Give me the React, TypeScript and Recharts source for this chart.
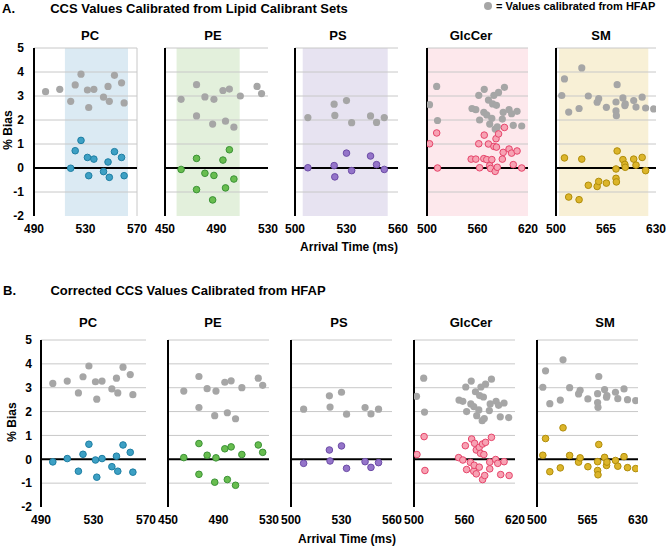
import React from "react";
import { ScatterChart, Scatter, XAxis, YAxis, ReferenceLine, ReferenceArea } from "recharts";

const FONT = "'Liberation Sans', Arial, sans-serif";
const GRAY = "#a6a6a6";

// --- PC ---
const pcTimes = [499, 510, 518.5, 522, 526.5, 531.5, 532.5, 536.5, 544, 547.5, 548.5, 552.5, 558, 560];
const pcHfap = [3.18, 3.28, 2.78, 3.46, 3.91, 3.25, 2.52, 3.28, 2.95, 3.4, 2.78, 3.86, 3.55, 2.71];
const pcLipid = [null, null, -0.01, 0.72, 1.15, 0.44, -0.32, 0.37, -0.15, 0.25, -0.39, 0.68, 0.44, -0.32];
const pcCorrected = [-0.11, 0.03, -0.5, 0.21, 0.63, -0.03, -0.75, 0.03, -0.31, 0.13, -0.5, 0.6, 0.29, -0.54];

// --- PE ---
const peTimes = [462.5, 474.5, 474.5, 481, 488, 487, 495, 500, 497, 503.5, 508.5, 521.5, 525];
const peHfap = [2.86, 3.47, 2.17, 2.96, 2.86, 1.83, 3.23, 3.29, 1.95, 1.7, 3.0, 3.4, 3.1];
const peLipid = [-0.06, 0.4, -0.9, -0.22, -0.31, -1.33, 0.33, 0.76, -0.83, -0.46, null, null, null];
const peCorrected = [0.07, 0.66, -0.63, 0.17, 0.06, -0.96, 0.44, 0.52, -0.85, -1.09, 0.2, 0.6, 0.29];

// --- PS ---
const psTimes = [507.5, 522.8, 523.2, 530, 533, 544, 547.5, 552];
const psHfap = [2.1, 2.66, 2.19, 2.81, 1.89, 2.17, 1.9, 2.1];
const psLipid = [0.01, 0.1, -0.37, 0.62, -0.11, 0.5, 0.14, -0.06];
const psCorrected = [-0.17, 0.39, -0.07, 0.56, -0.38, -0.1, -0.34, -0.14];

// --- GlcCer ---
const glcHfap: [number, number][] = [
  [503, 2.64], [511.5, 3.4], [512.5, 1.98], [553.5, 2.48], [558, 2.43], [561.5, 3.03], [562.5, 2.0],
  [567.5, 2.32], [568, 3.28], [571, 2.21], [573, 2.83], [574.5, 1.83], [577, 2.07], [578, 2.67],
  [579.5, 3.03], [581, 1.62], [582.5, 2.61], [583.5, 1.71], [585, 3.15], [589.5, 2.04], [590.5, 2.32],
  [592, 3.36], [597.5, 2.43], [600.5, 2.26], [602.5, 1.78], [607, 2.36], [612.5, 1.75],
];
const glcLipid: [number, number][] = [
  [503, 1.01], [511.5, 1.46], [512.5, 0.0], [552.5, 0.37], [558, 0.37], [561.5, 1.01], [562.5, 0.01],
  [567.5, 0.39], [568, 1.37], [571, 0.35], [573, 1.0], [574.5, 0.1], [575.5, -0.02], [577, 0.35],
  [579.5, 0.9], [581, -0.14], [582, 1.22], [582.5, 0.87], [583.5, 0.03], [585, 1.42], [589.5, 0.37],
  [590.5, 0.65], [592, 1.69], [597.5, 0.79], [600.5, 0.62], [602.5, 0.14], [607, 0.71], [612.5, 0.0],
];
const glcCorrected: [number, number][] = [
  [503.5, 0.2], [512, 0.95], [513, -0.47], [553, 0.07], [558, -0.03], [561, 0.57], [562.5, -0.43],
  [567, -0.13], [568.5, 0.85], [571, -0.5], [571.5, -0.25], [572, 0.67], [574, 0.39], [574, -0.61],
  [577.5, 0.5], [577.5, -0.33], [579, 0.25], [581.5, 0.64], [581.5, -0.85], [583, 0.2], [584, -0.68],
  [585, 0.71], [590, -0.12], [590, -0.4], [592, 0.92], [597, -0.01], [599.5, -0.17], [603, -0.64],
  [607, -0.1], [613, -0.68],
];

// --- SM ---
const smTimes = [507.5, 511, 516.5, 530, 533.5, 542, 553.5, 555.5, 565.5, 578, 579.5, 578, 578.5, 587, 589.5, 590, 601, 604, 612, 616.5, 627];
const smHfap = [3.02, 3.71, 2.33, 2.48, 4.17, 3.0, 2.74, 2.89, 2.53, 2.75, 3.47, 2.38, 2.18, 2.92, 2.6, 2.67, 2.81, 2.54, 2.95, 2.5, 2.46];
const smLipid = [null, 0.42, -1.21, -1.32, 0.37, -0.72, -0.77, -0.56, -0.63, -0.04, 0.71, -0.43, -0.58, 0.35, 0.15, 0.03, 0.37, 0.12, 0.44, -0.11, null];
const smCorrected = [0.17, 0.87, -0.52, -0.36, 1.32, 0.16, -0.12, 0.06, -0.31, -0.1, 0.62, -0.47, -0.65, 0.08, -0.26, -0.12, -0.05, -0.29, 0.11, -0.35, -0.39];

// axes
const biasTicks = [-2, -1, 0, 1, 2, 3, 4, 5];
const gridValues = [-1, 1, 2, 3, 4, 5];
const pcTicks = [490, 530, 570];
const peTicks = [450, 490, 530];
const psTicks = [500, 530, 560];
const glcTicks = [500, 560, 620];
const smTicks = [500, 565, 630];

type Pt = { t: number; b: number };
const pair = (times: number[], bias: (number | null)[]): Pt[] =>
  times.flatMap((t, i) => (bias[i] == null ? [] : [{ t, b: bias[i] as number }]));
const fromList = (list: [number, number][]): Pt[] => list.map(([t, b]) => ({ t, b }));

const dot = (fill: string, stroke: string | null, r: number) => (p: any) => (
  <circle cx={p.cx} cy={p.cy} r={r} fill={fill} stroke={stroke ?? "none"} strokeWidth={stroke ? 1 : 0} />
);

const tickStyle = { fontSize: 12, fontWeight: 700, fill: "#000", fontFamily: FONT };

type PanelProps = {
  x: number; y: number; w: number; h: number;
  ticks: number[];
  shade?: { from: number; to: number; fill: string };
  gray: Pt[];
  data: Pt[];
  fill: string; stroke: string;
  showY?: boolean; border?: boolean; tickMargin?: number;
};

function Panel({ x, y, w, h, ticks, shade, gray, data, fill, stroke, showY, border, tickMargin = 3 }: PanelProps) {
  const ML = 16, MR = 16, MT = 6, XH = 22, YW = 30;
  const lo = ticks[0], hi = ticks[ticks.length - 1];
  const extra = showY ? YW : 0;
  return (
    <div style={{ position: "absolute", left: x - ML - extra, top: y - MT }}>
      <ScatterChart width={w + ML + MR + extra} height={h + MT + XH + 2} margin={{ top: MT, right: MR, bottom: 2, left: ML }}>
        <XAxis type="number" dataKey="t" domain={[lo, hi]} ticks={ticks} interval={0} allowDataOverflow
          axisLine={false} tickLine={false} tick={tickStyle} height={XH} />
        <YAxis type="number" dataKey="b" domain={[-2, 5]} ticks={biasTicks} interval={0} allowDataOverflow hide={!showY}
          width={YW} axisLine={false} tickLine={false} tickMargin={tickMargin} tick={tickStyle} />
        {shade && (
          <ReferenceArea x1={shade.from} x2={shade.to} y1={-2} y2={5} fill={shade.fill} fillOpacity={1} stroke="none" />
        )}
        {gridValues.map((v) => (
          <ReferenceLine key={v} y={v} stroke="#c8c8c8" strokeWidth={1} />
        ))}
        {border && <ReferenceLine x={hi} stroke="#c8c8c8" strokeWidth={1} />}
        <ReferenceLine y={0} stroke="#000" strokeWidth={2} />
        <ReferenceLine x={lo} stroke="#000" strokeWidth={2} />
        <Scatter data={gray} shape={dot(GRAY, null, 3.6)} isAnimationActive={false} />
        <Scatter data={data} shape={dot(fill, stroke, 3.3)} isAnimationActive={false} />
      </ScatterChart>
    </div>
  );
}

function Text({ x, y, size = 12, children, rotate, anchor = "center" }: any) {
  const tx = anchor === "center" ? "-50%" : "0";
  return (
    <div
      style={{
        position: "absolute", left: x, top: y, whiteSpace: "nowrap",
        transform: `translate(${tx}, -50%)${rotate ? ` rotate(${rotate}deg)` : ""}`,
        fontFamily: FONT, fontWeight: 700, fontSize: size, color: "#000", lineHeight: 1,
      }}
    >
      {children}
    </div>
  );
}

const C = {
  pc: { fill: "#3da0c4", stroke: "#1d7ea3", shade: "#dbeaf3" },
  pe: { fill: "#68bd4f", stroke: "#3b9236", shade: "#e3f0dc" },
  ps: { fill: "#9474c9", stroke: "#6c4ca6", shade: "#e7e3f1" },
  glc: { fill: "#f7a2b3", stroke: "#e6456b", shade: "#fde8ec" },
  sm: { fill: "#dcb52a", stroke: "#b08d0b", shade: "#f8f0d6" },
};

export default function App() {
  const topY = 48, topH = 168;
  const botY = 340, botH = 167;
  const pcGray = pair(pcTimes, pcHfap);
  const peGray = pair(peTimes, peHfap);
  const psGray = pair(psTimes, psHfap);
  const glcGray = fromList(glcHfap);
  const smGray = pair(smTimes, smHfap);
  return (
    <div style={{ position: "absolute", left: 0, top: 0, width: 666, height: 546, background: "#fff", overflow: "hidden" }}>
      {/* A. */}
      <Text x={2} y={8} size={13} anchor="left">A.</Text>
      <Text x={199} y={8} size={13}>CCS Values Calibrated from Lipid Calibrant Sets</Text>
      <div style={{ position: "absolute", left: 484, top: 2, width: 8, height: 8, borderRadius: 4, background: GRAY }} />
      <Text x={496} y={6} size={11} anchor="left">= Values calibrated from HFAP</Text>
      <Text x={90} y={35} size={13}>PC</Text>
      <Text x={213} y={35} size={13}>PE</Text>
      <Text x={338} y={35} size={13}>PS</Text>
      <Text x={471} y={35} size={13}>GlcCer</Text>
      <Text x={601} y={35} size={13}>SM</Text>
      <Text x={8} y={130} rotate={-90}>% Bias</Text>
      <Text x={349} y={247}>Arrival Time (ms)</Text>

      <Panel x={34} y={topY} w={103} h={topH} ticks={pcTicks} showY border tickMargin={4}
        shade={{ from: 514, to: 563, fill: C.pc.shade }} gray={pcGray} data={pair(pcTimes, pcLipid)} fill={C.pc.fill} stroke={C.pc.stroke} />
      <Panel x={165} y={topY} w={103} h={topH} ticks={peTicks}
        shade={{ from: 459, to: 508, fill: C.pe.shade }} gray={peGray} data={pair(peTimes, peLipid)} fill={C.pe.fill} stroke={C.pe.stroke} />
      <Panel x={295} y={topY} w={103} h={topH} ticks={psTicks}
        shade={{ from: 504.5, to: 554, fill: C.ps.shade }} gray={psGray} data={pair(psTimes, psLipid)} fill={C.ps.fill} stroke={C.ps.stroke} />
      <Panel x={427} y={topY} w={101} h={topH} ticks={glcTicks}
        shade={{ from: 500, to: 620, fill: C.glc.shade }} gray={glcGray} data={fromList(glcLipid)} fill={C.glc.fill} stroke={C.glc.stroke} />
      <Panel x={556} y={topY} w={100} h={topH} ticks={smTicks}
        shade={{ from: 504, to: 620, fill: C.sm.shade }} gray={smGray} data={pair(smTimes, smLipid)} fill={C.sm.fill} stroke={C.sm.stroke} />

      {/* B. */}
      <Text x={3} y={290} size={13} anchor="left">B.</Text>
      <Text x={188} y={290} size={13}>Corrected CCS Values Calibrated from HFAP</Text>
      <Text x={88} y={322} size={13}>PC</Text>
      <Text x={213} y={322} size={13}>PE</Text>
      <Text x={339} y={322} size={13}>PS</Text>
      <Text x={471} y={322} size={13}>GlcCer</Text>
      <Text x={605} y={322} size={13}>SM</Text>
      <Text x={12} y={422} rotate={-90}>% Bias</Text>
      <Text x={347} y={539}>Arrival Time (ms)</Text>

      <Panel x={41} y={botY} w={105} h={botH} ticks={pcTicks} showY
        gray={pcGray} data={pair(pcTimes, pcCorrected)} fill={C.pc.fill} stroke={C.pc.stroke} />
      <Panel x={168} y={botY} w={101} h={botH} ticks={peTicks}
        gray={peGray} data={pair(peTimes, peCorrected)} fill={C.pe.fill} stroke={C.pe.stroke} />
      <Panel x={291} y={botY} w={101} h={botH} ticks={psTicks}
        gray={psGray} data={pair(psTimes, psCorrected)} fill={C.ps.fill} stroke={C.ps.stroke} />
      <Panel x={414} y={botY} w={101} h={botH} ticks={glcTicks}
        gray={glcGray} data={fromList(glcCorrected)} fill={C.glc.fill} stroke={C.glc.stroke} />
      <Panel x={537} y={botY} w={101} h={botH} ticks={smTicks}
        gray={smGray} data={pair(smTimes, smCorrected)} fill={C.sm.fill} stroke={C.sm.stroke} />
    </div>
  );
}
